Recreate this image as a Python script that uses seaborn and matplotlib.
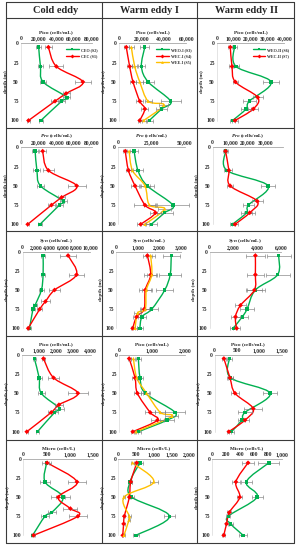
import numpy as np
import pandas as pd
import matplotlib
matplotlib.use("Agg")
import matplotlib.pyplot as plt
import seaborn as sns
from matplotlib.path import Path
from matplotlib.patches import PathPatch
from matplotlib.lines import Line2D
from matplotlib.ticker import FuncFormatter, FixedLocator

# ---------------- DATA ----------------
EDDIES = ["Cold eddy", "Warm eddy I", "Warm eddy II"]
VARIABLES = ["Pico", "Pro", "Syn", "PicoEuk", "Micro"]
XLABELS = ["Pico (cells/mL)", "$Pro$ (cells/mL)", "$Syn$ (cells/mL)",
           "Pico (cells/mL)", "Micro (cells/L)"]
DEPTH_TICKS = [0, 25, 50, 75, 100]

# Cold eddy
CEO_DEPTH = [5, 30, 50, 70, 75, 100]
CEO_PICO = [20000, 22000, 25000, 52000, 46000, 22500]
CEO_PICO_ERR = [2500, 3000, 3000, 4000, 4000, 2000]
CEO_PRO = [16000, 18000, 22000, 48000, 43500, 21500]
CEO_PRO_ERR = [3000, 4000, 4000, 4000, 4000, 2000]
CEO_SYN = [3050, 3050, 2800, 1850, 1550, 1050]
CEO_SYN_ERR = [300, 300, 400, 300, 300, 200]
CEO_PEUK = [720, 1000, 1120, 2200, 1900, 900]
CEO_PEUK_ERR = [100, 150, 200, 250, 200, 100]
CEO_MICRO = [500, 465, 850, 610, 465, 200]
CEO_MICRO_ERR = [100, 100, 150, 80, 80, 30]

CEC_DEPTH = [5, 30, 50, 65, 75, 100]
CEC_PICO = [31000, 40000, 70000, 51000, 38500, 8500]
CEC_PICO_ERR = [4000, 8000, 9000, 4000, 5000, 1500]
CEC_PRO = [24500, 31000, 63000, 46000, 34500, 7600]
CEC_PRO_ERR = [4000, 6000, 10000, 4000, 4000, 1000]
CEC_SYN = [6750, 8000, 4750, 3400, 2550, 850]
CEC_SYN_ERR = [1200, 1100, 800, 700, 400, 150]
CEC_PEUK = [1250, 1840, 3250, 2150, 1700, 280]
CEC_PEUK_ERR = [100, 300, 600, 250, 200, 50]
CEC_MICRO = [510, 1150, 750, 1010, 1170, 220]
CEC_MICRO_ERR = [50, 200, 150, 150, 200, 30]

# Warm eddy I
WEO1_DEPTH = [5, 30, 50, 75, 85, 100]
WEO1_PICO = [23000, 20000, 26000, 46000, 38000, 27000]
WEO1_PICO_ERR = [4000, 3000, 5000, 9000, 5000, 3000]
WEO1_PRO = [12000, 14900, 21800, 40900, 34800, 24800]
WEO1_PRO_ERR = [3000, 4000, 5000, 12000, 6000, 4000]
WEO1_SYN = [2550, 2500, 2250, 1650, 1200, 1100]
WEO1_SYN_ERR = [400, 500, 400, 300, 200, 150]
WEO1_PEUK = [580, 630, 790, 1700, 1450, 580]
WEO1_PEUK_ERR = [80, 100, 120, 300, 200, 80]
WEO1_MICRO = [610, 330, 380, 1440, np.nan, 500]
WEO1_MICRO_ERR = [80, 50, 60, 150, np.nan, 80]

WEC1_DEPTH = [5, 30, 50, 75, 85, 100]
WEC1_PICO = [6500, 9500, 12500, 18500, 23000, 18500]
WEC1_PICO_ERR = [2000, 2000, 3000, 3000, 3000, 2000]
WEC1_PRO = [5400, 7800, 12700, 20100, 27900, 16900]
WEC1_PRO_ERR = [1500, 2000, 3000, 8000, 4000, 3000]
WEC1_SYN = [1450, 1600, 1350, 1300, 950, 770]
WEC1_SYN_ERR = [200, 300, 300, 200, 150, 100]
WEC1_PEUK = [300, 480, 550, 940, 1160, 410]
WEC1_PEUK_ERR = [50, 80, 100, 150, 200, 60]
WEC1_MICRO = [520, 350, 310, 170, 150, 125]
WEC1_MICRO_ERR = [60, 50, 50, 30, 30, 20]

WEE1_DEPTH = [5, 30, 50, 75, 80, 100]
WEE1_PICO = [11000, 14000, 18500, 26000, 40000, 22000]
WEE1_PICO_ERR = [2000, 2000, 3000, 3000, 4000, 3000]
WEE1_PRO = [8300, 10800, 20100, 23500, 34800, 20100]
WEE1_PRO_ERR = [2000, 2500, 4000, 4000, 5000, 3000]
WEE1_SYN = [1600, 1650, 1400, 1350, 1000, 880]
WEE1_SYN_ERR = [200, 200, 200, 200, 150, 100]
WEE1_PEUK = [430, 530, 830, 1250, 1600, 510]
WEE1_PEUK_ERR = [60, 80, 100, 150, 200, 60]
WEE1_MICRO = [400, 1000, 160, 310, 300, 160]
WEE1_MICRO_ERR = [40, 120, 30, 50, 40, 30]

# Warm eddy II
WEO2_DEPTH = [5, 30, 50, 75, 85, 100]
WEO2_PICO = [10300, 11300, 32100, 19200, 17300, 9300]
WEO2_PICO_ERR = [1500, 1500, 5000, 4000, 3000, 1500]
WEO2_PRO = [7400, 8100, 31500, 20400, 19300, 11300]
WEO2_PRO_ERR = [1500, 1500, 4000, 3000, 3000, 1500]
WEO2_SYN = [5800, 5720, 3850, 3150, 2750, 1990]
WEO2_SYN_ERR = [1000, 1000, 800, 600, 500, 300]
WEO2_PEUK = [330, 360, 1240, 680, 610, 380]
WEO2_PEUK_ERR = [50, 60, 150, 150, 80, 50]
WEO2_MICRO = [815, 490, 645, 230, 265, 445]
WEO2_MICRO_ERR = [150, 80, 80, 30, 30, 60]

WEC2_DEPTH = [5, 30, 50, 70, 85, 100]
WEC2_PICO = [7900, 8900, 10900, 24200, 21600, 10700]
WEC2_PICO_ERR = [1500, 1500, 1500, 3000, 3000, 1500]
WEC2_PRO = [7400, 9300, 10000, 25400, 21100, 12800]
WEC2_PRO_ERR = [1000, 1500, 1500, 3000, 3000, 1500]
WEC2_SYN = [3850, 3850, 3770, 2600, 2180, 2270]
WEC2_SYN_ERR = [800, 700, 600, 500, 400, 300]
WEC2_PEUK = [210, 345, 457, 865, 680, 320]
WEC2_PEUK_ERR = [40, 60, 80, 200, 100, 40]
WEC2_MICRO = [515, 340, 395, 245, 205, 165]
WEC2_MICRO_ERR = [80, 60, 40, 30, 20, 20]

STATIONS = {
    "CEO (S2)": ("Cold eddy", CEO_DEPTH, [CEO_PICO, CEO_PRO, CEO_SYN, CEO_PEUK, CEO_MICRO],
                 [CEO_PICO_ERR, CEO_PRO_ERR, CEO_SYN_ERR, CEO_PEUK_ERR, CEO_MICRO_ERR]),
    "CEC (S1)": ("Cold eddy", CEC_DEPTH, [CEC_PICO, CEC_PRO, CEC_SYN, CEC_PEUK, CEC_MICRO],
                 [CEC_PICO_ERR, CEC_PRO_ERR, CEC_SYN_ERR, CEC_PEUK_ERR, CEC_MICRO_ERR]),
    "WEO-I (S3)": ("Warm eddy I", WEO1_DEPTH, [WEO1_PICO, WEO1_PRO, WEO1_SYN, WEO1_PEUK, WEO1_MICRO],
                   [WEO1_PICO_ERR, WEO1_PRO_ERR, WEO1_SYN_ERR, WEO1_PEUK_ERR, WEO1_MICRO_ERR]),
    "WEC-I (S4)": ("Warm eddy I", WEC1_DEPTH, [WEC1_PICO, WEC1_PRO, WEC1_SYN, WEC1_PEUK, WEC1_MICRO],
                   [WEC1_PICO_ERR, WEC1_PRO_ERR, WEC1_SYN_ERR, WEC1_PEUK_ERR, WEC1_MICRO_ERR]),
    "WEE-I (S5)": ("Warm eddy I", WEE1_DEPTH, [WEE1_PICO, WEE1_PRO, WEE1_SYN, WEE1_PEUK, WEE1_MICRO],
                   [WEE1_PICO_ERR, WEE1_PRO_ERR, WEE1_SYN_ERR, WEE1_PEUK_ERR, WEE1_MICRO_ERR]),
    "WEO-II (S6)": ("Warm eddy II", WEO2_DEPTH, [WEO2_PICO, WEO2_PRO, WEO2_SYN, WEO2_PEUK, WEO2_MICRO],
                    [WEO2_PICO_ERR, WEO2_PRO_ERR, WEO2_SYN_ERR, WEO2_PEUK_ERR, WEO2_MICRO_ERR]),
    "WEC-II (S7)": ("Warm eddy II", WEC2_DEPTH, [WEC2_PICO, WEC2_PRO, WEC2_SYN, WEC2_PEUK, WEC2_MICRO],
                    [WEC2_PICO_ERR, WEC2_PRO_ERR, WEC2_SYN_ERR, WEC2_PEUK_ERR, WEC2_MICRO_ERR]),
}

# ---------------- STYLE ----------------
GREEN, RED, ORANGE = "#00B050", "#FF0000", "#FFC000"
COLORS = {"CEO (S2)": GREEN, "CEC (S1)": RED, "WEO-I (S3)": GREEN, "WEC-I (S4)": RED,
          "WEE-I (S5)": ORANGE, "WEO-II (S6)": GREEN, "WEC-II (S7)": RED}
MARKERS = {"CEO (S2)": "s", "CEC (S1)": "D", "WEO-I (S3)": "s", "WEC-I (S4)": "D",
           "WEE-I (S5)": "^", "WEO-II (S6)": "s", "WEC-II (S7)": "D"}

rows = []
for st, (eddy, depth, vals, errs) in STATIONS.items():
    for vi, var in enumerate(VARIABLES):
        for d, v, e in zip(depth, vals[vi], errs[vi]):
            rows.append(dict(eddy=eddy, station=st, var=var, depth=d, value=v, err=e))
df = pd.DataFrame(rows).dropna()

sns.set_style("white")
plt.rcParams["font.family"] = ["Liberation Serif", "DejaVu Serif"]
plt.rcParams["font.weight"] = "bold"
plt.rcParams["mathtext.fontset"] = "custom"
plt.rcParams["mathtext.it"] = "Liberation Serif:italic:bold"
plt.rcParams["mathtext.rm"] = "Liberation Serif:bold"

W, H = 298, 550
fig = plt.figure(figsize=(W / 100, H / 100), dpi=100)

# per-panel axis placement (pixels) and x range
PANEL_AXES = [
    [(21, 91.7, 80000, 20000, 80000), (119, 186.3, 60000, 20000, 60000), (217, 284.3, 40000, 10000, 40000)],
    [(21, 91.7, 80000, 20000, 80000), (118, 185, 50000, 25000, 50000), (212.5, 283, 40000, 10000, 30000)],
    [(22.5, 90, 10000, 2000, 10000), (116, 181, 3000, 1000, 3000), (209.5, 281, 6000, 2000, 6000)],
    [(22, 90.7, 4000, 1000, 4000), (119.3, 185, 2000, 1000, 2000), (214.5, 281.7, 1500, 500, 1500)],
    [(23.3, 93.3, 1500, 500, 1500), (118.3, 189.3, 2000, 500, 2000), (212.3, 281.7, 1000, 200, 1000)],
]
ROW_Y = [(43.3, 120.5), (147.3, 224.3), (251.7, 328.3), (354.7, 431.7), (459, 535.3)]


def smooth_patch(x, y, color):
    P = np.column_stack([x, y]).astype(float)
    n = len(P)
    verts = [P[0]]
    codes = [Path.MOVETO]
    for i in range(n - 1):
        p0 = P[i - 1] if i > 0 else P[i]
        p3 = P[i + 2] if i + 2 < n else P[i + 1]
        c1 = P[i] + (P[i + 1] - p0) / 6.0
        c2 = P[i + 1] - (p3 - P[i]) / 6.0
        verts += [c1, c2, P[i + 1]]
        codes += [Path.CURVE4] * 3
    return PathPatch(Path(verts, codes), facecolor="none", edgecolor=color,
                     lw=1.0, zorder=2, clip_on=False)


fmt = FuncFormatter(lambda v, p: f"{v:,.0f}")

for ci, eddy in enumerate(EDDIES):
    stations = [s for s, t in STATIONS.items() if t[0] == eddy]
    for ri, var in enumerate(VARIABLES):
        l, r, xmax, step, tmax = PANEL_AXES[ri][ci]
        t, b = ROW_Y[ri]
        ax = fig.add_axes([l / W, 1 - b / H, (r - l) / W, (b - t) / H])
        sub = df[(df.eddy == eddy) & (df["var"] == var)]
        for st in stations:
            s = sub[sub.station == st]
            ax.add_patch(smooth_patch(s.value.values, s.depth.values, COLORS[st]))
            ax.errorbar(s.value, s.depth, xerr=s.err, fmt="none", ecolor="#7f7f7f",
                        elinewidth=0.45, capsize=1.1, capthick=0.45, zorder=3, clip_on=False)
        sns.scatterplot(data=sub, x="value", y="depth", hue="station", style="station",
                        palette=COLORS, markers=MARKERS, hue_order=stations,
                        style_order=stations, s=6, linewidth=0, legend=False, ax=ax,
                        zorder=4, clip_on=False)
        ax.set_xlim(0, xmax)
        ax.set_ylim(100, 0)
        ax.xaxis.tick_top()
        ax.xaxis.set_label_position("top")
        ax.xaxis.set_major_locator(FixedLocator(np.arange(0, tmax + 1, step)))
        ax.xaxis.set_major_formatter(fmt)
        ax.set_yticks(DEPTH_TICKS)
        ax.tick_params(axis="both", length=0, pad=1.5, labelsize=4)
        for lab in ax.get_xticklabels() + ax.get_yticklabels():
            lab.set_fontweight("bold")
        ax.set_xlabel(XLABELS[ri], fontsize=3.8, fontweight="bold", labelpad=2)
        ax.set_ylabel("depth (m)", fontsize=3.8, fontweight="bold", labelpad=2)
        for sp in ["bottom", "right"]:
            ax.spines[sp].set_visible(False)
        ax.spines["top"].set_color("#a6a6a6")
        ax.spines["top"].set_linewidth(0.6)
        ax.spines["left"].set_color("#d0d0d0")
        ax.spines["left"].set_linewidth(0.4)
        ax.patch.set_alpha(0)
        if ri == 0:
            handles = [Line2D([], [], color=COLORS[s], marker=MARKERS[s], markersize=2,
                              lw=1.0, markeredgewidth=0) for s in stations]
            ax.legend(handles, stations, loc="upper right", bbox_to_anchor=(1.12, 0.98),
                      fontsize=2.9, frameon=False, handlelength=3.2, handletextpad=0.5,
                      labelspacing=0.6, borderpad=0.2)

# titles
for x, name in zip([56, 149.5, 247], EDDIES):
    fig.text(x / W, 1 - 10.5 / H, name, ha="center", va="center", fontsize=7.5,
             fontweight="bold")

# table borders
XS = [5.7, 101.7, 196.7, 293.5]
YS = [1.5, 17.5, 128, 231, 336, 440, 543]
for x in XS:
    fig.add_artist(Line2D([x / W, x / W], [1 - YS[0] / H, 1 - YS[-1] / H],
                          transform=fig.transFigure, color="#3a3a3a", lw=0.8))
for y in YS:
    fig.add_artist(Line2D([XS[0] / W, XS[-1] / W], [1 - y / H, 1 - y / H],
                          transform=fig.transFigure, color="#3a3a3a", lw=0.8))

fig.savefig("out.png", dpi=100)
